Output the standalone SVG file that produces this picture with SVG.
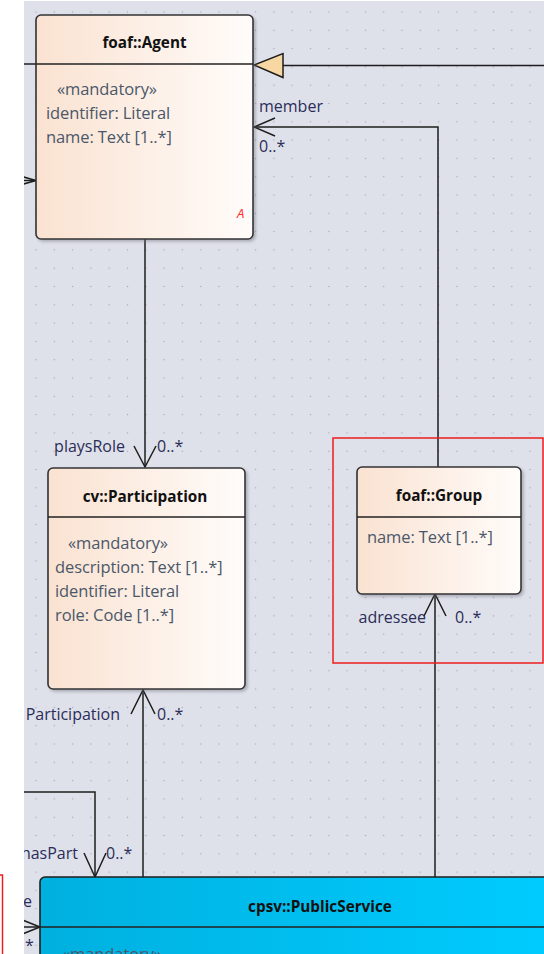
<svg xmlns="http://www.w3.org/2000/svg" width="544" height="954" viewBox="0 0 544 954">
<defs>
<pattern id="dots" patternUnits="userSpaceOnUse" x="26.85" y="2.85" width="18.3" height="18.3">
<circle cx="9.15" cy="9.15" r="0.8" fill="#a8acb8"/>
</pattern>
<linearGradient id="cls" x1="0" y1="0" x2="1" y2="0">
<stop offset="0" stop-color="#fae2d1"/>
<stop offset="1" stop-color="#fffcfa"/>
</linearGradient>
<linearGradient id="ps" x1="0" y1="0" x2="1" y2="0">
<stop offset="0" stop-color="#00b0df"/>
<stop offset="1" stop-color="#00ccff"/>
</linearGradient>
<filter id="sh" x="-10%" y="-10%" width="130%" height="130%">
<feDropShadow dx="2" dy="2" stdDeviation="1.5" flood-color="#6a6e78" flood-opacity="0.45"/>
</filter>
<clipPath id="area"><rect x="24" y="0" width="520" height="954"/></clipPath>
<style>
.box{stroke:#333;stroke-width:1.6;filter:url(#sh)}
.sep{stroke:#222;stroke-width:1.5}
.title{font-family:"Open Sans","Noto Sans",sans-serif;font-size:15.3px;font-weight:bold;fill:#111;text-anchor:middle}
.attr{font-family:"Open Sans","Noto Sans",sans-serif;font-size:16.5px;fill:#4a586a;letter-spacing:-0.1px}
.lbl{font-family:"Open Sans","Noto Sans",sans-serif;font-size:16px;fill:#2b2d58}
.ln{stroke:#1e1e1e;stroke-width:1.5;fill:none}
</style>
</defs>
<rect x="0" y="0" width="544" height="954" fill="#ffffff"/>
<rect x="24" y="1" width="520" height="953" fill="#dfe1ea"/>
<rect x="24" y="1" width="520" height="953" fill="url(#dots)"/>

<g id="connectors" clip-path="url(#area)">
<line class="ln" x1="283" y1="65.5" x2="544" y2="65.5"/>
<polygon points="254,65 283,53.5 283,77.5" fill="#f8d8a2" stroke="#1e1e1e" stroke-width="1.5"/>
<line class="ln" x1="20" y1="64" x2="36" y2="64"/>
<line class="ln" x1="20" y1="180.5" x2="36" y2="180.5"/>
<polyline class="ln" points="20,176 36,180.5 20,185"/>
<polyline class="ln" points="438,467 438,127 254,127"/>
<polyline class="ln" points="275,118 254,127 275,136"/>
<line class="ln" x1="145" y1="239" x2="145" y2="467"/>
<polyline class="ln" points="134,446 145,467 156,446"/>
<line class="ln" x1="143" y1="690" x2="143" y2="877"/>
<polyline class="ln" points="131,714 143,690 155,714"/>
<line class="ln" x1="435" y1="594" x2="435" y2="877"/>
<polyline class="ln" points="424,616 435,594 446,616"/>
<polyline class="ln" points="20,792 95,792 95,877"/>
<polyline class="ln" points="84,853 95,877 106,853"/>
<line class="ln" x1="20" y1="927" x2="40" y2="927"/>
<polyline class="ln" points="20,919 40,927 20,935"/>
</g>

<g id="labels" clip-path="url(#area)">
<text class="lbl" x="259" y="112">member</text>
<text class="lbl" x="259" y="152">0..*</text>
<text class="lbl" x="125" y="452" text-anchor="end">playsRole</text>
<text class="lbl" x="157" y="452">0..*</text>
<text class="lbl" x="120" y="720" text-anchor="end">Participation</text>
<text class="lbl" x="157" y="720">0..*</text>
<text class="lbl" x="426" y="623" text-anchor="end">adressee</text>
<text class="lbl" x="455" y="623">0..*</text>
<text class="lbl" x="78" y="859" text-anchor="end">hasPart</text>
<text class="lbl" x="106" y="859">0..*</text>
<text class="lbl" x="23" y="907">e</text>
<text class="lbl" x="25" y="951">*</text>
</g>

<g id="foaf-agent">
<rect class="box" x="36" y="15" width="217" height="224" rx="5" fill="url(#cls)"/>
<line class="sep" x1="36" y1="64" x2="253" y2="64"/>
<text class="title" x="144.5" y="48">foaf::Agent</text>
<text class="attr" x="57" y="95">«mandatory»</text>
<text class="attr" x="46" y="119">identifier: Literal</text>
<text class="attr" x="46" y="143">name: Text [1..*]</text>
<text x="237" y="218" font-family="'Open Sans',sans-serif" font-size="13" font-style="italic" fill="#ff2a2a">A</text>
</g>

<g id="cv-participation">
<rect class="box" x="48" y="468" width="197" height="221" rx="5" fill="url(#cls)"/>
<line class="sep" x1="48" y1="517" x2="245" y2="517"/>
<text class="title" x="145" y="502">cv::Participation</text>
<text class="attr" x="68" y="549">«mandatory»</text>
<text class="attr" x="55" y="573">description: Text [1..*]</text>
<text class="attr" x="55" y="597">identifier: Literal</text>
<text class="attr" x="55" y="621">role: Code [1..*]</text>
</g>

<g id="foaf-group">
<rect class="box" x="357" y="467" width="164" height="127" rx="5" fill="url(#cls)"/>
<line class="sep" x1="357" y1="517" x2="521" y2="517"/>
<text class="title" x="439" y="501">foaf::Group</text>
<text class="attr" x="367" y="543">name: Text [1..*]</text>
</g>
<rect id="group-highlight" x="333" y="438" width="210" height="225" fill="none" stroke="#ee1c1c" stroke-width="1.5"/>

<g id="cpsv-publicservice">
<rect x="40" y="877" width="520" height="100" rx="5" fill="url(#ps)" stroke="#1e1e1e" stroke-width="1.6"/>
<line class="sep" x1="40" y1="927" x2="544" y2="927"/>
<text class="title" x="320" y="912">cpsv::PublicService</text>
<text class="attr" x="62" y="960" fill="#1d3a50">«mandatory»</text>
</g>
<rect id="left-highlight" x="-10" y="875" width="12.5" height="100" fill="none" stroke="#ee1c1c" stroke-width="1.5"/>
</svg>
